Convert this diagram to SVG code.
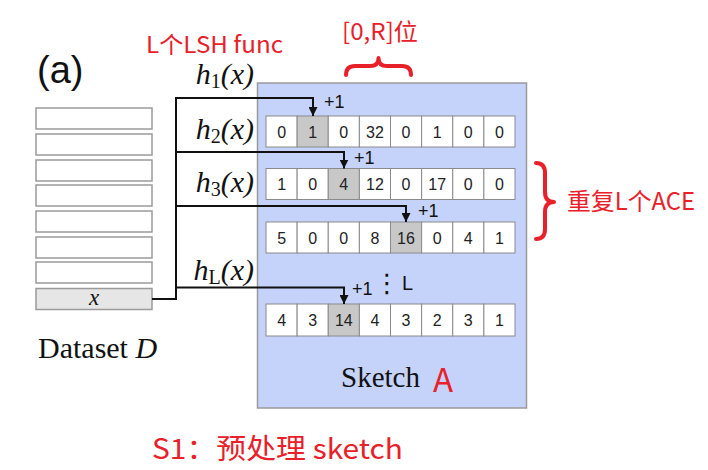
<svg xmlns="http://www.w3.org/2000/svg" width="708" height="470" viewBox="0 0 708 470">
<defs>
<marker id="ah" viewBox="0 0 10 10" refX="10" refY="5" markerWidth="9" markerHeight="9" markerUnits="userSpaceOnUse" orient="auto">
<path d="M0,0 L10,5 L0,10 z" fill="#111"/>
</marker>
<style>
.red{fill:#e8202a;font-family:"Noto Sans CJK SC","Noto Sans",sans-serif}
.serif{font-family:"Liberation Serif","Times New Roman",serif;fill:#111}
.hl{font-family:"Liberation Serif",serif;font-style:italic;font-size:30px;fill:#111}
.sub{font-size:20px;font-style:normal}
.cell{fill:#fff;stroke:#8a8a8a;stroke-width:1}
.cell.on{fill:#c8c8c8}
.num{font-family:"Liberation Sans",Arial,sans-serif;font-size:16px;fill:#222;text-anchor:middle}
.p1{font-family:"Liberation Sans",Arial,sans-serif;font-size:18px;fill:#111}
.ds{fill:#fff;stroke:#9a9a9a;stroke-width:1.5}
.conn{fill:none;stroke:#111;stroke-width:2}
.brace{fill:none;stroke:#e8202a;stroke-width:4;stroke-linecap:round;stroke-linejoin:round}
</style>
</defs>

<text x="37" y="83" font-family="Liberation Sans,Arial,sans-serif" font-size="38" fill="#111">(a)</text>

<g id="dataset">
<rect class="ds" x="36" y="108" width="116" height="21"/>
<rect class="ds" x="36" y="134" width="116" height="21"/>
<rect class="ds" x="36" y="160" width="116" height="21"/>
<rect class="ds" x="36" y="185" width="116" height="21"/>
<rect class="ds" x="36" y="211" width="116" height="21"/>
<rect class="ds" x="36" y="237" width="116" height="21"/>
<rect class="ds" x="36" y="262" width="116" height="21"/>
<rect class="ds" x="36" y="288.5" width="116" height="21" style="fill:#e6e6e6"/>
<text class="serif" x="94" y="305" font-size="23" font-style="italic" text-anchor="middle">x</text>
<text class="serif" x="38" y="358" font-size="30">Dataset <tspan font-style="italic">D</tspan></text>
</g>

<g id="sketch">
<rect x="257.5" y="83" width="269" height="325" fill="#c5d3fb" stroke="#9a9a9a" stroke-width="1.5"/>
<text class="serif" x="341" y="387" font-size="29">Sketch</text>
<text class="red" x="433" y="392" font-size="33">A</text>
</g>

<g id="row1">
<rect class="cell" x="266" y="116" width="31.125" height="31"/>
<rect class="cell on" x="297.125" y="116" width="31.125" height="31"/>
<rect class="cell" x="328.25" y="116" width="31.125" height="31"/>
<rect class="cell" x="359.375" y="116" width="31.125" height="31"/>
<rect class="cell" x="390.5" y="116" width="31.125" height="31"/>
<rect class="cell" x="421.625" y="116" width="31.125" height="31"/>
<rect class="cell" x="452.75" y="116" width="31.125" height="31"/>
<rect class="cell" x="483.875" y="116" width="31.125" height="31"/>
<text class="num" y="137.5"><tspan x="281.6">0</tspan><tspan x="312.7">1</tspan><tspan x="343.8">0</tspan><tspan x="374.9">32</tspan><tspan x="406">0</tspan><tspan x="437.2">1</tspan><tspan x="468.3">0</tspan><tspan x="499.4">0</tspan></text>
</g>

<g id="row2">
<rect class="cell" x="266" y="168.5" width="31.125" height="31"/>
<rect class="cell" x="297.125" y="168.5" width="31.125" height="31"/>
<rect class="cell on" x="328.25" y="168.5" width="31.125" height="31"/>
<rect class="cell" x="359.375" y="168.5" width="31.125" height="31"/>
<rect class="cell" x="390.5" y="168.5" width="31.125" height="31"/>
<rect class="cell" x="421.625" y="168.5" width="31.125" height="31"/>
<rect class="cell" x="452.75" y="168.5" width="31.125" height="31"/>
<rect class="cell" x="483.875" y="168.5" width="31.125" height="31"/>
<text class="num" y="190"><tspan x="281.6">1</tspan><tspan x="312.7">0</tspan><tspan x="343.8">4</tspan><tspan x="374.9">12</tspan><tspan x="406">0</tspan><tspan x="437.2">17</tspan><tspan x="468.3">0</tspan><tspan x="499.4">0</tspan></text>
</g>

<g id="row3">
<rect class="cell" x="266" y="222" width="31.125" height="31"/>
<rect class="cell" x="297.125" y="222" width="31.125" height="31"/>
<rect class="cell" x="328.25" y="222" width="31.125" height="31"/>
<rect class="cell" x="359.375" y="222" width="31.125" height="31"/>
<rect class="cell on" x="390.5" y="222" width="31.125" height="31"/>
<rect class="cell" x="421.625" y="222" width="31.125" height="31"/>
<rect class="cell" x="452.75" y="222" width="31.125" height="31"/>
<rect class="cell" x="483.875" y="222" width="31.125" height="31"/>
<text class="num" y="243.5"><tspan x="281.6">5</tspan><tspan x="312.7">0</tspan><tspan x="343.8">0</tspan><tspan x="374.9">8</tspan><tspan x="406">16</tspan><tspan x="437.2">0</tspan><tspan x="468.3">4</tspan><tspan x="499.4">1</tspan></text>
</g>

<g id="rowL">
<rect class="cell" x="266" y="304" width="31.125" height="32"/>
<rect class="cell" x="297.125" y="304" width="31.125" height="32"/>
<rect class="cell on" x="328.25" y="304" width="31.125" height="32"/>
<rect class="cell" x="359.375" y="304" width="31.125" height="32"/>
<rect class="cell" x="390.5" y="304" width="31.125" height="32"/>
<rect class="cell" x="421.625" y="304" width="31.125" height="32"/>
<rect class="cell" x="452.75" y="304" width="31.125" height="32"/>
<rect class="cell" x="483.875" y="304" width="31.125" height="32"/>
<text class="num" y="326"><tspan x="281.6">4</tspan><tspan x="312.7">3</tspan><tspan x="343.8">14</tspan><tspan x="374.9">4</tspan><tspan x="406">3</tspan><tspan x="437.2">2</tspan><tspan x="468.3">3</tspan><tspan x="499.4">1</tspan></text>
</g>

<g id="connectors">
<path class="conn" d="M152,299 H176 V98 H313 V116" marker-end="url(#ah)"/>
<path class="conn" d="M176,152 H344 V168.5" marker-end="url(#ah)"/>
<path class="conn" d="M176,206 H406 V222" marker-end="url(#ah)"/>
<path class="conn" d="M176,287.5 H344 V304" marker-end="url(#ah)"/>
</g>

<g id="labels">
<text class="hl" x="254" y="84" text-anchor="end">h<tspan class="sub" dy="4">1</tspan><tspan dy="-4">(x)</tspan></text>
<text class="hl" x="254" y="139" text-anchor="end">h<tspan class="sub" dy="4">2</tspan><tspan dy="-4">(x)</tspan></text>
<text class="hl" x="254" y="192" text-anchor="end">h<tspan class="sub" dy="4">3</tspan><tspan dy="-4">(x)</tspan></text>
<text class="hl" x="254" y="280" text-anchor="end">h<tspan class="sub" dy="4" font-style="italic">L</tspan><tspan dy="-4">(x)</tspan></text>
<text class="p1" x="324" y="108">+1</text>
<text class="p1" x="354" y="164">+1</text>
<text class="p1" x="418" y="217">+1</text>
<text class="p1" x="352" y="295">+1</text>
<text x="374" y="292" font-family="DejaVu Sans,sans-serif" font-size="26" fill="#111">⋮</text>
<text x="402" y="290" font-family="Liberation Sans,Arial,sans-serif" font-size="20" fill="#111">L</text>
</g>

<g id="annotations">
<text class="red" x="146" y="53" font-size="23" textLength="137" lengthAdjust="spacingAndGlyphs">L个LSH func</text>
<text class="red" x="342" y="40" font-size="23" textLength="76" lengthAdjust="spacingAndGlyphs">[0,R]位</text>
<path class="brace" d="M346,75 Q346,66 355,66 L370,66 Q378.5,66 378.5,58 Q378.5,66 387,66 L402,66 Q411,66 411,75"/>
<path class="brace" d="M536,163 Q545,163 545,173 L545,192 Q545,202 554,202 Q545,202 545,212 L545,229 Q545,239 536,239"/>
<text class="red" x="567" y="210" font-size="24" textLength="128" lengthAdjust="spacingAndGlyphs">重复L个ACE</text>
<text class="red" x="152" y="459" font-size="28" textLength="251" lengthAdjust="spacingAndGlyphs">S1：预处理 sketch</text>
</g>
</svg>
